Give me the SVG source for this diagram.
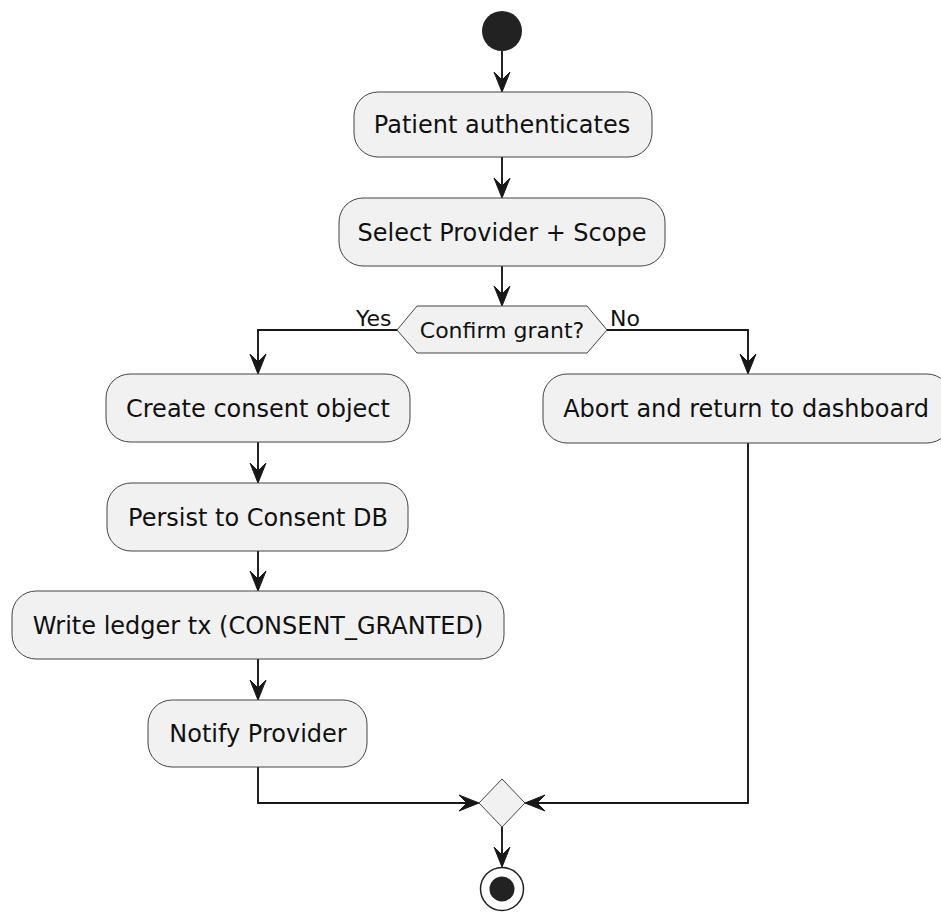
<svg xmlns="http://www.w3.org/2000/svg" width="941" height="914" viewBox="0 0 941 914">
<defs>
<style>
.box{fill:#F1F1F1;stroke:#444444;stroke-width:1}
.t{font-family:"DejaVu Sans",sans-serif;font-size:24px;fill:#111;text-anchor:middle}
.s{font-family:"DejaVu Sans",sans-serif;font-size:22px;fill:#111}
.ln{fill:none;stroke:#181818;stroke-width:1.9}
.ah{fill:#181818;stroke:#181818;stroke-width:1}
</style>
</defs>
<rect width="941" height="914" fill="#FFFFFF"/>

<g id="connectors">
<path class="ln" d="M502,51 V91"/>
<polygon class="ah" points="502,92 494,72 502,80 510,72"/>
<path class="ln" d="M502,157 V197"/>
<polygon class="ah" points="502,198 494,178 502,186 510,178"/>
<path class="ln" d="M502,266 V305"/>
<polygon class="ah" points="502,306 494,286 502,294 510,286"/>
<path class="ln" d="M397,330 H258 V373"/>
<polygon class="ah" points="258,374 250,354 258,362 266,354"/>
<path class="ln" d="M607,330 H748 V373"/>
<polygon class="ah" points="748,374 740,354 748,362 756,354"/>
<path class="ln" d="M258,442 V482"/>
<polygon class="ah" points="258,483 250,463 258,471 266,463"/>
<path class="ln" d="M258,551 V590"/>
<polygon class="ah" points="258,591 250,571 258,579 266,571"/>
<path class="ln" d="M258,659 V699"/>
<polygon class="ah" points="258,700 250,680 258,688 266,680"/>
<path class="ln" d="M258,767 V803 H478"/>
<polygon class="ah" points="479,803 459,795 467,803 459,811"/>
<path class="ln" d="M748,443 V803 H526"/>
<polygon class="ah" points="525,803 545,795 537,803 545,811"/>
<path class="ln" d="M502,827 V866"/>
<polygon class="ah" points="502,867 494,847 502,855 510,847"/>
<text class="s" x="356" y="326">Yes</text>
<text class="s" x="610" y="326">No</text>
</g>

<g id="start">
<circle cx="502" cy="31" r="20" fill="#222222"/>
</g>

<g id="patient-authenticates">
<rect class="box" x="354" y="92" width="298" height="65" rx="24" ry="24"/>
<text class="t" x="502" y="133">Patient authenticates</text>
</g>

<g id="select-provider">
<rect class="box" x="339" y="198" width="326" height="68" rx="24" ry="24"/>
<text class="t" x="502" y="241">Select Provider + Scope</text>
</g>

<g id="confirm-grant">
<polygon class="box" points="397,330 417,306 587,306 607,330 587,353 417,353"/>
<text class="s" x="502" y="338" text-anchor="middle">Confirm grant?</text>
</g>

<g id="create-consent">
<rect class="box" x="106" y="374" width="304" height="68" rx="24" ry="24"/>
<text class="t" x="258" y="417">Create consent object</text>
</g>

<g id="abort">
<rect class="box" x="543" y="374" width="408" height="69" rx="24" ry="24"/>
<text class="t" x="746" y="417">Abort and return to dashboard</text>
</g>

<g id="persist">
<rect class="box" x="107" y="483" width="301" height="68" rx="24" ry="24"/>
<text class="t" x="258" y="526">Persist to Consent DB</text>
</g>

<g id="write-ledger">
<rect class="box" x="12" y="591" width="492" height="68" rx="24" ry="24"/>
<text class="t" x="258" y="634">Write ledger tx (CONSENT_GRANTED)</text>
</g>

<g id="notify">
<rect class="box" x="148" y="700" width="219" height="67" rx="24" ry="24"/>
<text class="t" x="258" y="742">Notify Provider</text>
</g>

<g id="merge">
<polygon class="box" points="479,803 502,779 525,803 502,827"/>
</g>

<g id="end">
<circle cx="502" cy="889" r="21.5" fill="#FFFFFF" stroke="#222222" stroke-width="1.5"/>
<circle cx="502" cy="889" r="12.5" fill="#222222"/>
</g>
</svg>
